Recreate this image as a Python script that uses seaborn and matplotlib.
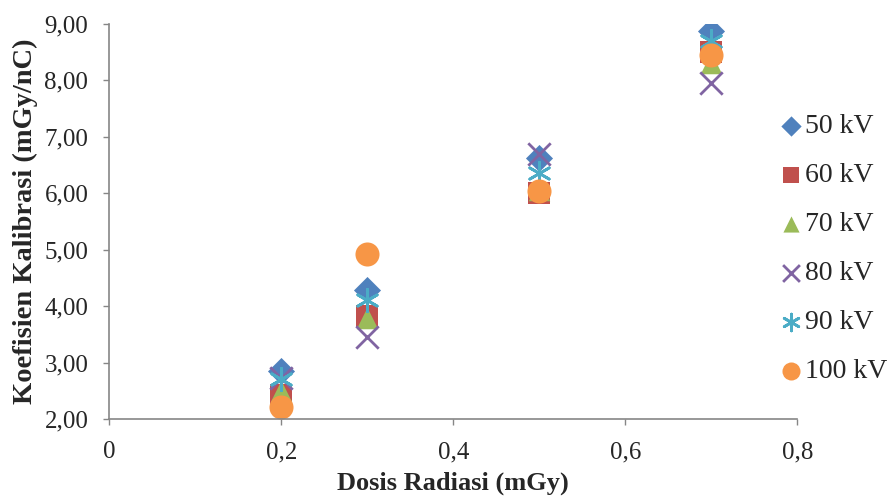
import matplotlib
matplotlib.use("Agg")
import matplotlib.pyplot as plt
from matplotlib.ticker import FuncFormatter
import seaborn as sns

dose = [0.2, 0.3, 0.5, 0.7]
kv_labels = ["50 kV", "60 kV", "70 kV", "80 kV", "90 kV", "100 kV"]
coef_50 = [2.85, 4.28, 6.62, 8.87]
coef_60 = [2.42, 3.82, 6.00, 8.50]
coef_70 = [2.50, 3.78, 6.05, 8.30]
coef_80 = [2.72, 3.45, 6.70, 7.95]
coef_90 = [2.70, 4.10, 6.35, 8.70]
coef_100 = [2.22, 4.93, 6.03, 8.45]
series = [coef_50, coef_60, coef_70, coef_80, coef_90, coef_100]

colors = ["#4F81BD", "#C0504D", "#9BBB59", "#8064A2", "#4BACC6", "#F79646"]
markers = ["D", "s", "^", "x", (6, 2, 0), "o"]
sizes = [190, 230, 240, 260, 260, 300]

sns.set_style("white")
plt.rcParams["font.family"] = ["Liberation Serif", "DejaVu Serif"]

fig = plt.figure(figsize=(8.95, 4.97), dpi=100)
ax = fig.add_axes([0.122, 0.157, 0.769, 0.795])

for vals, lab, c, m, s in zip(series, kv_labels, colors, markers, sizes):
    if m in ("x", (6, 2, 0)):
        sns.scatterplot(x=dose, y=vals, ax=ax, marker=m, color=c, s=s,
                        linewidth=2, label=lab)
    else:
        sns.scatterplot(x=dose, y=vals, ax=ax, marker=m, color=c, s=s,
                        linewidth=0, label=lab)

ax.set_xlim(0, 0.8)
ax.set_ylim(2, 9)
ax.set_xticks([0, 0.2, 0.4, 0.6, 0.8])
ax.set_yticks([2, 3, 4, 5, 6, 7, 8, 9])
ax.xaxis.set_major_formatter(FuncFormatter(
    lambda v, p: "0" if v == 0 else f"{v:.1f}".replace(".", ",")))
ax.yaxis.set_major_formatter(FuncFormatter(
    lambda v, p: f"{v:.2f}".replace(".", ",")))
ax.tick_params(axis="both", labelsize=18, direction="out", length=4,
               color="#868686", width=1, bottom=True, left=True)
ax.tick_params(axis="y", pad=11)
ax.tick_params(axis="x", pad=12)

for side in ["top", "right"]:
    ax.spines[side].set_visible(False)
for side in ["left", "bottom"]:
    ax.spines[side].set_color("#868686")
    ax.spines[side].set_linewidth(1.2)

ax.set_xlabel("Dosis Radiasi (mGy)", fontsize=19, fontweight="bold", labelpad=6)
ax.set_ylabel("Koefisien Kalibrasi (mGy/nC)", fontsize=20.5, fontweight="bold",
              labelpad=5)

leg = ax.legend(loc="center left", bbox_to_anchor=(0.955, 0.43), frameon=False,
                fontsize=20, markerscale=0.75, labelspacing=0.85,
                handletextpad=0.0, handlelength=1.0, borderaxespad=0)

fig.savefig("out.png", dpi=100)
